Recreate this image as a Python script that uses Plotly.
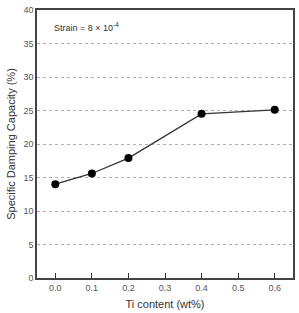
import plotly.graph_objects as go

ti_content = [0.0, 0.1, 0.2, 0.4, 0.6]
sdc = [14.0, 15.6, 17.9, 24.5, 25.1]
x_ticks = [0.0, 0.1, 0.2, 0.3, 0.4, 0.5, 0.6]
x_tick_labels = ["0.0", "0.1", "0.2", "0.3", "0.4", "0.5", "0.6"]
y_ticks = [0, 5, 10, 15, 20, 25, 30, 35, 40]

fig = go.Figure()
fig.add_trace(go.Scatter(
    x=ti_content, y=sdc, mode="lines+markers",
    line=dict(color="#333333", width=1.3),
    marker=dict(color="black", size=8),
    showlegend=False,
))

fig.update_layout(
    width=299, height=313,
    margin=dict(l=37, r=4, t=10, b=31),
    paper_bgcolor="white", plot_bgcolor="white",
    font=dict(family="Liberation Sans, Arial, sans-serif", color="#444444"),
    xaxis=dict(
        range=[-0.05, 0.65], tickvals=x_ticks, ticktext=x_tick_labels,
        ticks="inside", ticklen=5, tickcolor="#333333", tickwidth=1,
        showgrid=False, zeroline=False,
        showline=True, linecolor="#444444", linewidth=1.5, mirror=True,
        tickfont=dict(size=9, color="#555555"),
        title=dict(text="Ti content (wt%)", font=dict(size=11, color="#333333"), standoff=9),
    ),
    yaxis=dict(
        range=[0, 40], tickvals=y_ticks,
        ticks="", showgrid=True, gridcolor="#b0b0b0", griddash="dot", gridwidth=1,
        zeroline=False,
        showline=True, linecolor="#444444", linewidth=1.5, mirror=True,
        tickfont=dict(size=9, color="#555555"),
        title=dict(text="Specific Damping Capacity (%)", font=dict(size=11, color="#333333"), standoff=6),
    ),
    annotations=[dict(
        x=0.0, y=37.5, xref="x", yref="y", xanchor="left", yanchor="middle",
        xshift=-3,
        text="Strain = 8 × 10<sup>-4</sup>", showarrow=False,
        font=dict(size=9, color="#333333"),
    )],
)

fig.write_html("out.html")
